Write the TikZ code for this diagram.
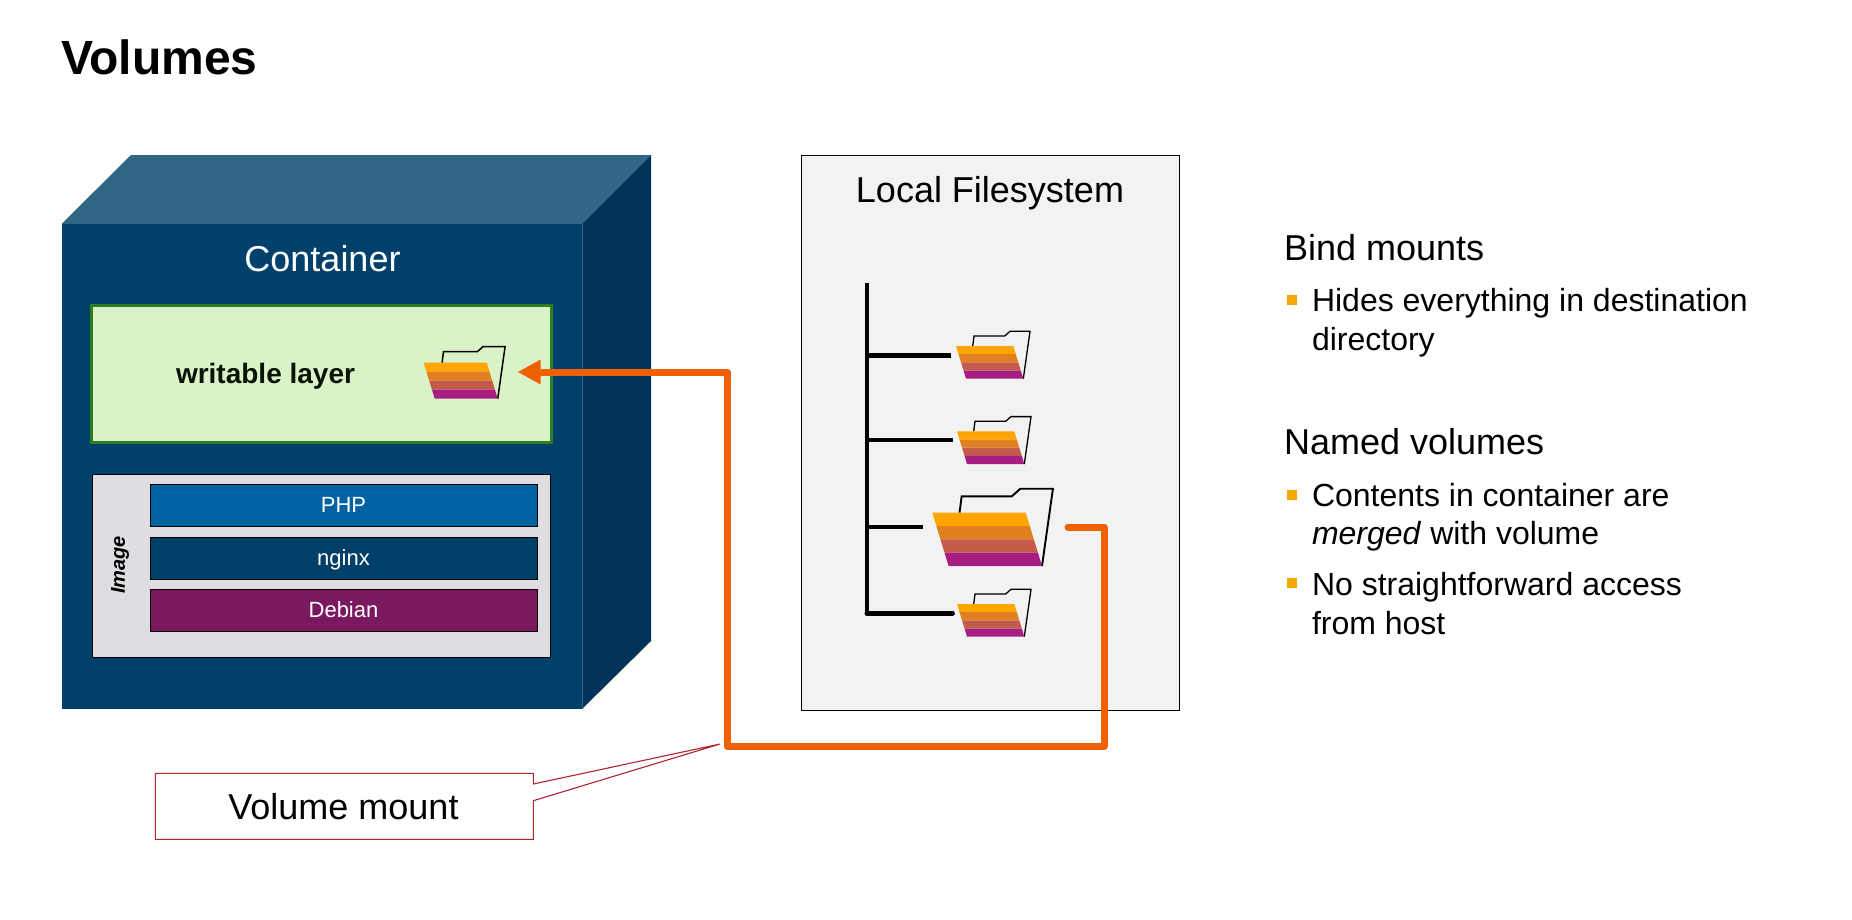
\documentclass[tikz,border=0pt]{standalone}
\usepackage{fontspec}
\setmainfont{Liberation Sans}
\usetikzlibrary{positioning,arrows.meta,calc}
\definecolor{cubefront}{HTML}{00416B}
\definecolor{cubetop}{HTML}{316785}
\definecolor{cubeside}{HTML}{003355}
\definecolor{cubeedge}{HTML}{2E6687}
\definecolor{layerfill}{HTML}{D9F2C8}
\definecolor{layeredge}{HTML}{2E7D1E}
\definecolor{imagefill}{HTML}{DEDEE2}
\definecolor{phpblue}{HTML}{0062A3}
\definecolor{nginxblue}{HTML}{004068}
\definecolor{debianpurple}{HTML}{7A1860}
\definecolor{fsfill}{HTML}{F2F2F2}
\definecolor{mountline}{HTML}{EE6000}
\definecolor{calloutred}{HTML}{B0242E}
\definecolor{bulletamber}{HTML}{F5A800}
\definecolor{stripea}{HTML}{FFA500}
\definecolor{stripeb}{HTML}{E08020}
\definecolor{stripec}{HTML}{C45A4A}
\definecolor{striped}{HTML}{A61E82}
\newcommand{\fsz}[1]{\fontsize{#1}{#1}\selectfont}

\begin{document}
\begin{tikzpicture}[
  x=1pt,y=-1pt,
  line width=1pt,
  every node/.style={inner sep=0pt,outer sep=0pt},
  layerbox/.style={draw=black,line width=0.9pt,minimum width=387pt,minimum height=42pt,
    text=white,text height=16pt,text depth=2pt,font=\fsz{22}},
  headline/.style={anchor=base west,font=\fsz{36}},
  bodyline/.style={anchor=base west,font=\fsz{32}},
  bulletbox/.style={fill=bulletamber,minimum width=10pt,minimum height=10pt},
  trunk/.style={line width=4.4pt,black},
  mountpath/.style={line width=7pt,mountline,line join=round}
]
\useasboundingbox (0,0) rectangle (1852,919);
% title
\node[anchor=base west,font=\bfseries\fsz{48}] (title) at (61,74) {Volumes};
% container cube
\fill[cubetop] (61.5,224) -- (131,155) -- (651,155) -- (582,224) -- cycle;
\fill[cubeside] (582,224) -- (651,155) -- (651,641) -- (582,709) -- cycle;
\fill[cubefront] (61.5,224) rectangle (582,709);
\draw[cubeedge] (582,224) -- (582,709);
\node[anchor=base,text=white,font=\fsz{36}] (container) at (322.5,271) {Container};
% writable layer
\node[draw=layeredge,fill=layerfill,line width=3pt,minimum width=460pt,minimum height=137pt]
  (wlayer) at (321,373.5) {};
\node[anchor=base,text=black!85!layeredge,font=\bfseries\fsz{28}] (wtext) at (265.5,383) {writable layer};
% image stack
\node[draw=black,fill=imagefill,line width=0.9pt,minimum width=458pt,minimum height=183pt]
  (imagebox) at (321,565.5) {};
\node[rotate=90,font=\bfseries\itshape\fsz{20}] (imagetext) at (120,565) {Image};
\node[layerbox,fill=phpblue] (php) at (343.5,505) {PHP};
\node[layerbox,fill=nginxblue] (nginx) at (343.5,558) {nginx};
\node[layerbox,fill=debianpurple] (debian) at (343.5,610) {Debian};
% local filesystem
\node[draw=black,fill=fsfill,minimum width=378pt,minimum height=555pt] (fsbox) at (990,432.5) {};
\node[anchor=base,font=\fsz{36}] (fstext) at (990,202) {Local Filesystem};
% folders
\foreach \fx/\fy/\fs/\fw in {423.7/362.7/1.1/1.5,956/346/1/1.3,957/431.3/1/1.3,932.3/512.7/1.63/1.9,957/604/1/1.3}{
  \begin{scope}[shift={(\fx,\fy)},scale=\fs]
    \draw[line width=\fw pt,line join=miter]
      (16.7,0) -- (18,-10) -- (48.7,-10) -- (54,-14.7) -- (74,-14.7) -- (67.3,32.7);
    \fill[stripea] (0,0) -- (57.3,0) -- (59.8,8.2) -- (2.5,8.2) -- cycle;
    \fill[stripeb] (2.5,8.2) -- (59.8,8.2) -- (62.3,16.4) -- (5,16.4) -- cycle;
    \fill[stripec] (5,16.4) -- (62.3,16.4) -- (64.8,24.5) -- (7.5,24.5) -- cycle;
    \fill[striped] (7.5,24.5) -- (64.8,24.5) -- (67.3,32.7) -- (10,32.7) -- cycle;
  \end{scope}
}
% directory tree
\coordinate (trunktop) at (866.7,283);
\coordinate (trunkend) at (866.7,613.3);
\coordinate (brancha) at (951,355.3);
\coordinate (branchb) at (952.7,440);
\coordinate (branchc) at (922.7,527);
\coordinate (branchd) at (952.7,613.3);
\draw[trunk] (trunktop) -- (trunkend);
\draw[trunk] (brancha) -- (brancha -| trunktop);
\draw[trunk] (branchb) -- (branchb -| trunktop);
\draw[trunk] (branchc) -- (branchc -| trunktop);
\draw[trunk,line cap=round] (branchd) -- (branchd -| trunktop);
% volume mount line
\coordinate (mountstart) at (1068,527);
\coordinate (mountright) at (1104,527);
\coordinate (mountlow) at (1104,746.5);
\coordinate (mountleft) at (727.5,746.5);
\coordinate (mountup) at (727.5,372);
\coordinate (mounttip) at (517.5,372);
\draw[mountpath,line cap=round,-{Triangle[length=23pt,width=23pt]}]
  (mountstart) -- (mountright) -- (mountlow) -- (mountleft) -- (mountup) -- (mounttip);
% callout
\node[minimum width=378pt,minimum height=66pt] (vmount) at (344.3,806.3) {};
\coordinate (callouttip) at (720,744);
\draw[calloutred,line width=1.1pt,fill=white]
  (vmount.north west) -- (vmount.north east) -- ($(vmount.north east)+(0,10.7)$) -- (callouttip)
  -- ($(vmount.north east)+(0,27.4)$) -- (vmount.south east) -- (vmount.south west) -- cycle;
\node[anchor=base,font=\fsz{36}] (vmtext) at (343.5,819) {Volume mount};
% right column
\node[headline] (bind) at (1284,260) {Bind mounts};
\node[bulletbox] (bulleta) at (1292,300) {};
\node[bodyline] (hides) at (1312,311) {Hides everything in destination};
\node[bodyline] (hidesb) at (1312,350) {directory};
\node[headline] (named) at (1284,454) {Named volumes};
\node[bulletbox] (bulletb) at (1292,495) {};
\node[bodyline] (contents) at (1312,506) {Contents in container are};
\node[bodyline] (contentsb) at (1312,544.5) {\textit{merged} with volume};
\node[bulletbox] (bulletc) at (1292,583) {};
\node[bodyline] (access) at (1312,595) {No straightforward access};
\node[bodyline] (accessb) at (1312,634) {from host};
\end{tikzpicture}
\end{document}
